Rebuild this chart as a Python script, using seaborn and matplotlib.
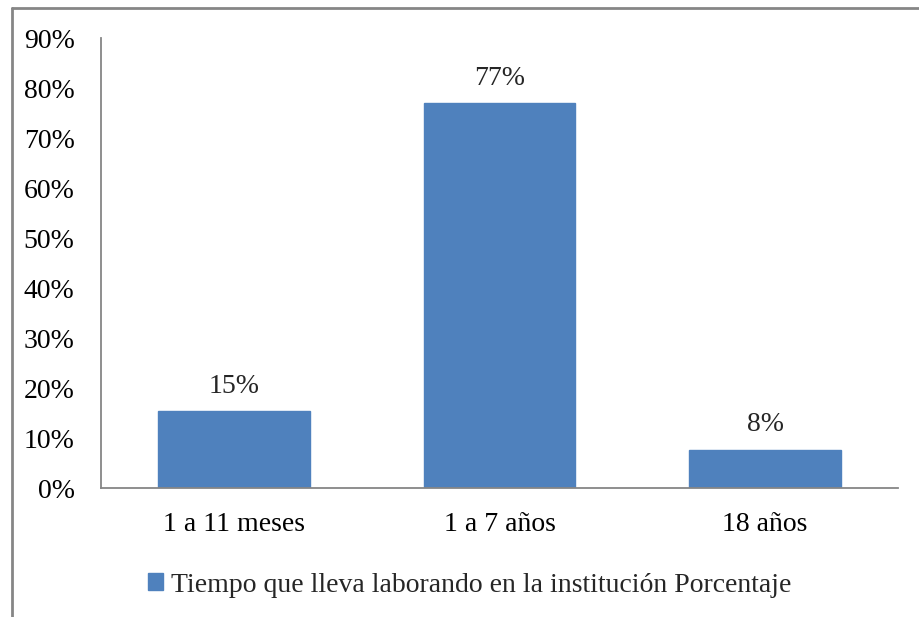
import matplotlib
matplotlib.use("Agg")
import matplotlib.pyplot as plt
import seaborn as sns
import pandas as pd
from matplotlib.lines import Line2D
from matplotlib.patches import Patch

categories = ["1 a 11 meses", "1 a 7 años", "18 años"]
values = [2/13, 10/13, 1/13]
labels = ["15%", "77%", "8%"]
yticks = [0, 0.1, 0.2, 0.3, 0.4, 0.5, 0.6, 0.7, 0.8, 0.9]
ytick_labels = ["0%", "10%", "20%", "30%", "40%", "50%", "60%", "70%", "80%", "90%"]
series_name = "Tiempo que lleva laborando en la institución Porcentaje"

sns.set_theme(style="white")
plt.rcParams['font.family'] = ['Liberation Serif', 'DejaVu Serif']

W, H = 919, 617
fig = plt.figure(figsize=(W/100, H/100), dpi=100)
ax = fig.add_axes([101/W, 1-488/H, (898-101)/W, (488-38)/H])

df = pd.DataFrame({"cat": categories, "val": values})
color = "#4F81BD"
sns.barplot(data=df, x="cat", y="val", color=color, width=0.57, ax=ax,
            saturation=1, edgecolor=color)

FS = 20
ax.set_ylim(0, 0.9)
ax.set_yticks(yticks)
ax.set_yticklabels(ytick_labels)
ax.set_xlabel("")
ax.set_ylabel("")
ax.tick_params(axis='both', length=0, labelsize=FS, colors='black')
ax.tick_params(axis='y', pad=19)
ax.tick_params(axis='x', pad=17)
for s in ["top", "right"]:
    ax.spines[s].set_visible(False)
for s in ["left", "bottom"]:
    ax.spines[s].set_color("#868686")
    ax.spines[s].set_linewidth(1.3)

for i, (v, lab) in enumerate(zip(values, labels)):
    ax.annotate(lab, (i, v), xytext=(0, 13), textcoords="offset points",
                ha="center", va="baseline", fontsize=FS)

# outer chart frame
fig.add_artist(Line2D([12/W, 12/W], [0, 1-8/H], transform=fig.transFigure, color="#868686", lw=2))
fig.add_artist(Line2D([12/W, 1], [1-8/H, 1-8/H], transform=fig.transFigure, color="#868686", lw=2))

handle = Patch(facecolor=color, edgecolor=color)
fig.legend([handle], [series_name], loc="center", bbox_to_anchor=(470/W, 1-585/H),
           frameon=False, fontsize=FS, handlelength=0.53, handleheight=0.53, handletextpad=0.3)

fig.savefig("out.png", dpi=100)
